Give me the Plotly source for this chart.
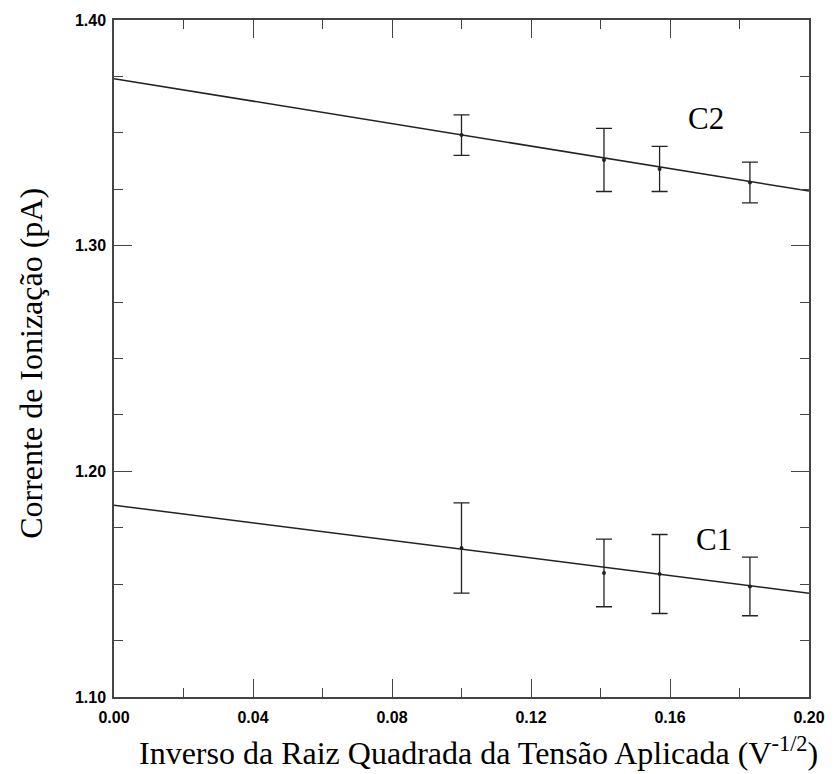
import plotly.graph_objects as go

# Data
x_pts = [0.100, 0.141, 0.157, 0.183]
c2_vals = [1.349, 1.338, 1.334, 1.328]
c2_err = [0.009, 0.014, 0.010, 0.009]
c1_vals = [1.166, 1.155, 1.1545, 1.149]
c1_err = [0.020, 0.015, 0.0175, 0.013]

fit_x = [0.0, 0.20]
c2_fit = [1.374, 1.3242]
c1_fit = [1.185, 1.146]

x_ticks = [0.00, 0.04, 0.08, 0.12, 0.16, 0.20]
x_ticktext = ["0.00", "0.04", "0.08", "0.12", "0.16", "0.20"]
y_ticks = [1.10, 1.20, 1.30, 1.40]
y_ticktext = ["1.10", "1.20", "1.30", "1.40"]

ink = "#222222"
serif = "Liberation Serif"

fig = go.Figure()

for fy in (c2_fit, c1_fit):
    fig.add_trace(go.Scatter(x=fit_x, y=fy, mode="lines",
                             line=dict(color=ink, width=1.5),
                             showlegend=False, hoverinfo="skip"))

for vals, errs in ((c2_vals, c2_err), (c1_vals, c1_err)):
    fig.add_trace(go.Scatter(
        x=x_pts, y=vals, mode="markers",
        marker=dict(color=ink, size=4),
        error_y=dict(type="data", array=errs, visible=True,
                     color=ink, thickness=1.3, width=8),
        showlegend=False))

fig.add_annotation(x=0.1704, y=1.3564, text="C2", showarrow=False,
                   font=dict(family=serif, size=31, color="#000"))
fig.add_annotation(x=0.1728, y=1.1696, text="C1", showarrow=False,
                   font=dict(family=serif, size=31, color="#000"))

fig.add_annotation(xref="paper", yref="paper", x=0.525, y=-0.1116,
                   xanchor="center", yanchor="bottom", showarrow=False,
                   text="Inverso da Raiz Quadrada da Tensão Aplicada (V<sup>-1/2</sup>)",
                   font=dict(family=serif, size=32, color="#000"))
fig.add_annotation(xref="paper", yref="paper", x=-0.1186, y=0.493,
                   xanchor="center", yanchor="middle", showarrow=False,
                   textangle=-90,
                   text="Corrente de Ionização (pA)",
                   font=dict(family=serif, size=32, color="#000"))

axis_common = dict(showline=True, linecolor="#444", linewidth=1.5,
                   mirror="ticks", ticks="inside", tickcolor="#444",
                   tickwidth=1.3, ticklen=18, showgrid=False, zeroline=False,
                   tickfont=dict(family="Liberation Sans", size=16, color="#000",
                                 weight="bold"))

fig.update_xaxes(range=[0, 0.20], tickvals=x_ticks, ticktext=x_ticktext,
                 ticklabelstandoff=5,
                 minor=dict(dtick=0.02, ticks="inside", ticklen=9,
                            tickcolor="#444", tickwidth=1.2, showgrid=False),
                 **axis_common)
fig.update_yaxes(range=[1.10, 1.40], tickvals=y_ticks, ticktext=y_ticktext,
                 ticklabelstandoff=3,
                 minor=dict(dtick=0.025, tick0=1.10, ticks="inside", ticklen=9,
                            tickcolor="#444", tickwidth=1.2, showgrid=False),
                 **axis_common)

fig.update_layout(width=837, height=774,
                  margin=dict(l=114, r=23, t=16, b=77),
                  plot_bgcolor="white", paper_bgcolor="white")

fig.write_html("out.html")
